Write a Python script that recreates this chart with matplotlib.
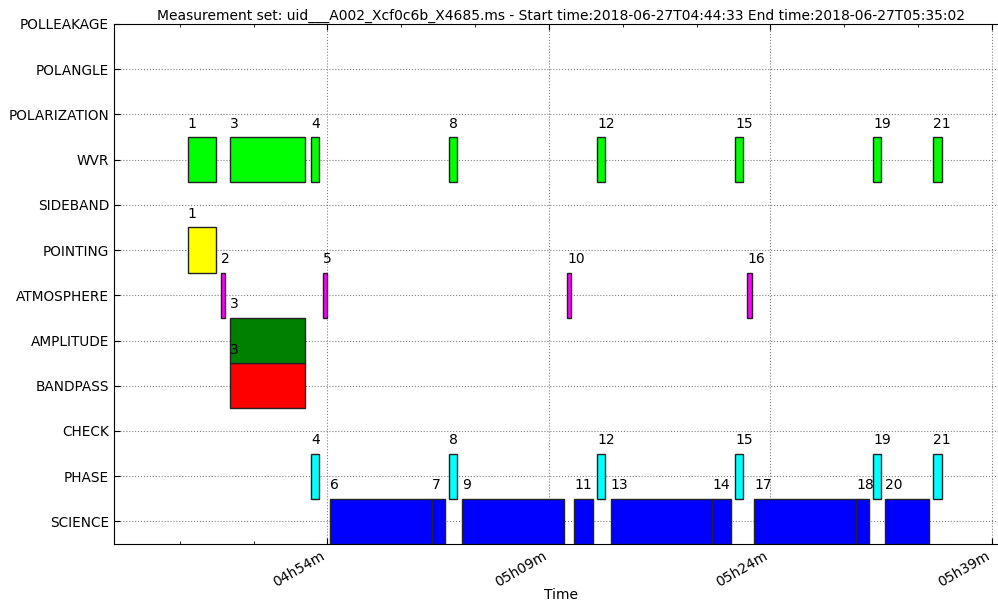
import pandas as pd
import matplotlib
matplotlib.use('Agg')
import matplotlib.pyplot as plt
import matplotlib.dates as mdates

day = '2018-06-27 '

# scan number -> start / end time
scans = list(range(1, 22))
scan_start = ['04:44:33', '04:46:49', '04:47:24', '04:52:55', '04:53:42', '04:54:12', '05:01:05',
              '05:02:14', '05:03:07', '05:10:14', '05:10:43', '05:12:16', '05:13:11', '05:20:04',
              '05:21:36', '05:22:26', '05:22:55', '05:29:48', '05:30:58', '05:31:47', '05:35:02']
scan_end = ['04:46:27', '04:47:06', '04:52:28', '04:53:26', '04:54:00', '05:01:05', '05:01:57',
            '05:02:45', '05:10:01', '05:10:28', '05:12:00', '05:12:46', '05:20:04', '05:21:19',
            '05:22:10', '05:22:44', '05:29:48', '05:30:41', '05:31:28', '05:34:45', '05:35:36']

# intents, bottom to top
intents = ['SCIENCE', 'PHASE', 'CHECK', 'BANDPASS', 'AMPLITUDE', 'ATMOSPHERE',
           'POINTING', 'SIDEBAND', 'WVR', 'POLARIZATION', 'POLANGLE', 'POLLEAKAGE']
intent_colors = ['#0000ff', '#00ffff', '#ffffff', '#ff0000', '#008000', '#ff00ff',
                 '#ffff00', '#ffffff', '#00ff00', '#ffffff', '#ffffff', '#ffffff']

science_scans = [6, 7, 9, 11, 13, 14, 17, 18, 20]
phase_scans = [4, 8, 12, 15, 19, 21]
bandpass_scans = [3]
amplitude_scans = [3]
atmosphere_scans = [2, 5, 10, 16]
pointing_scans = [1]
wvr_scans = [1, 3, 4, 8, 12, 15, 19, 21]

intent_scans = {
    'SCIENCE': science_scans,
    'PHASE': phase_scans,
    'BANDPASS': bandpass_scans,
    'AMPLITUDE': amplitude_scans,
    'ATMOSPHERE': atmosphere_scans,
    'POINTING': pointing_scans,
    'WVR': wvr_scans,
}

ms_name = 'uid___A002_Xcf0c6b_X4685.ms'
obs_start = '04:44:33'
obs_end = '05:35:02'


def to_num(t):
    return mdates.date2num(pd.Timestamp(day + t))


t0 = {s: to_num(a) for s, a in zip(scans, scan_start)}
t1 = {s: to_num(b) for s, b in zip(scans, scan_end)}

fig = plt.figure(figsize=(9.98, 6.04), dpi=100)
ax = fig.add_axes([0.1142, 0.0993, 0.895, 0.861])

for i, intent in enumerate(intents):
    y = i + 1
    for s in intent_scans.get(intent, []):
        ax.barh(y, t1[s] - t0[s], left=t0[s], height=1.0,
                color=intent_colors[i], edgecolor='#222222', linewidth=1.0, zorder=3)
        ax.text(t0[s], y + 0.71, str(s), ha='left', va='baseline', fontsize=10, zorder=4)

start = pd.Timestamp(day + obs_start)
end = pd.Timestamp(day + obs_end)
ax.set_xlim(mdates.date2num(start - pd.Timedelta(minutes=5)),
            mdates.date2num(end + pd.Timedelta(minutes=5)))
ax.set_ylim(0.5, len(intents))

major = pd.date_range(day + '04:39', day + '05:54', freq='15min')
minor = pd.date_range(day + '04:39', day + '05:54', freq='5min')
ax.xaxis.set_major_locator(matplotlib.ticker.FixedLocator(mdates.date2num(major)))
ax.xaxis.set_minor_locator(matplotlib.ticker.FixedLocator(mdates.date2num(minor)))
ax.xaxis.set_major_formatter(mdates.DateFormatter('%Hh%Mm'))
plt.setp(ax.get_xticklabels(), rotation=30, ha='right', fontsize=10)

ax.set_yticks(range(1, len(intents) + 1))
ax.set_yticklabels(intents, fontsize=9.8)

ax.tick_params(which='both', direction='in', top=True, right=True)
ax.tick_params(which='major', length=4)
ax.tick_params(which='minor', length=2)
ax.grid(True, which='major', linestyle=':', color='0.5', linewidth=0.8, zorder=0)
ax.set_axisbelow(True)

ax.set_xlabel('Time', fontsize=10, labelpad=-1)
ax.set_title('Measurement set: ' + ms_name + ' - Start time:2018-06-27T' + obs_start
             + ' End time:2018-06-27T' + obs_end, fontsize=10, pad=3)

fig.savefig('out.png', dpi=100)
